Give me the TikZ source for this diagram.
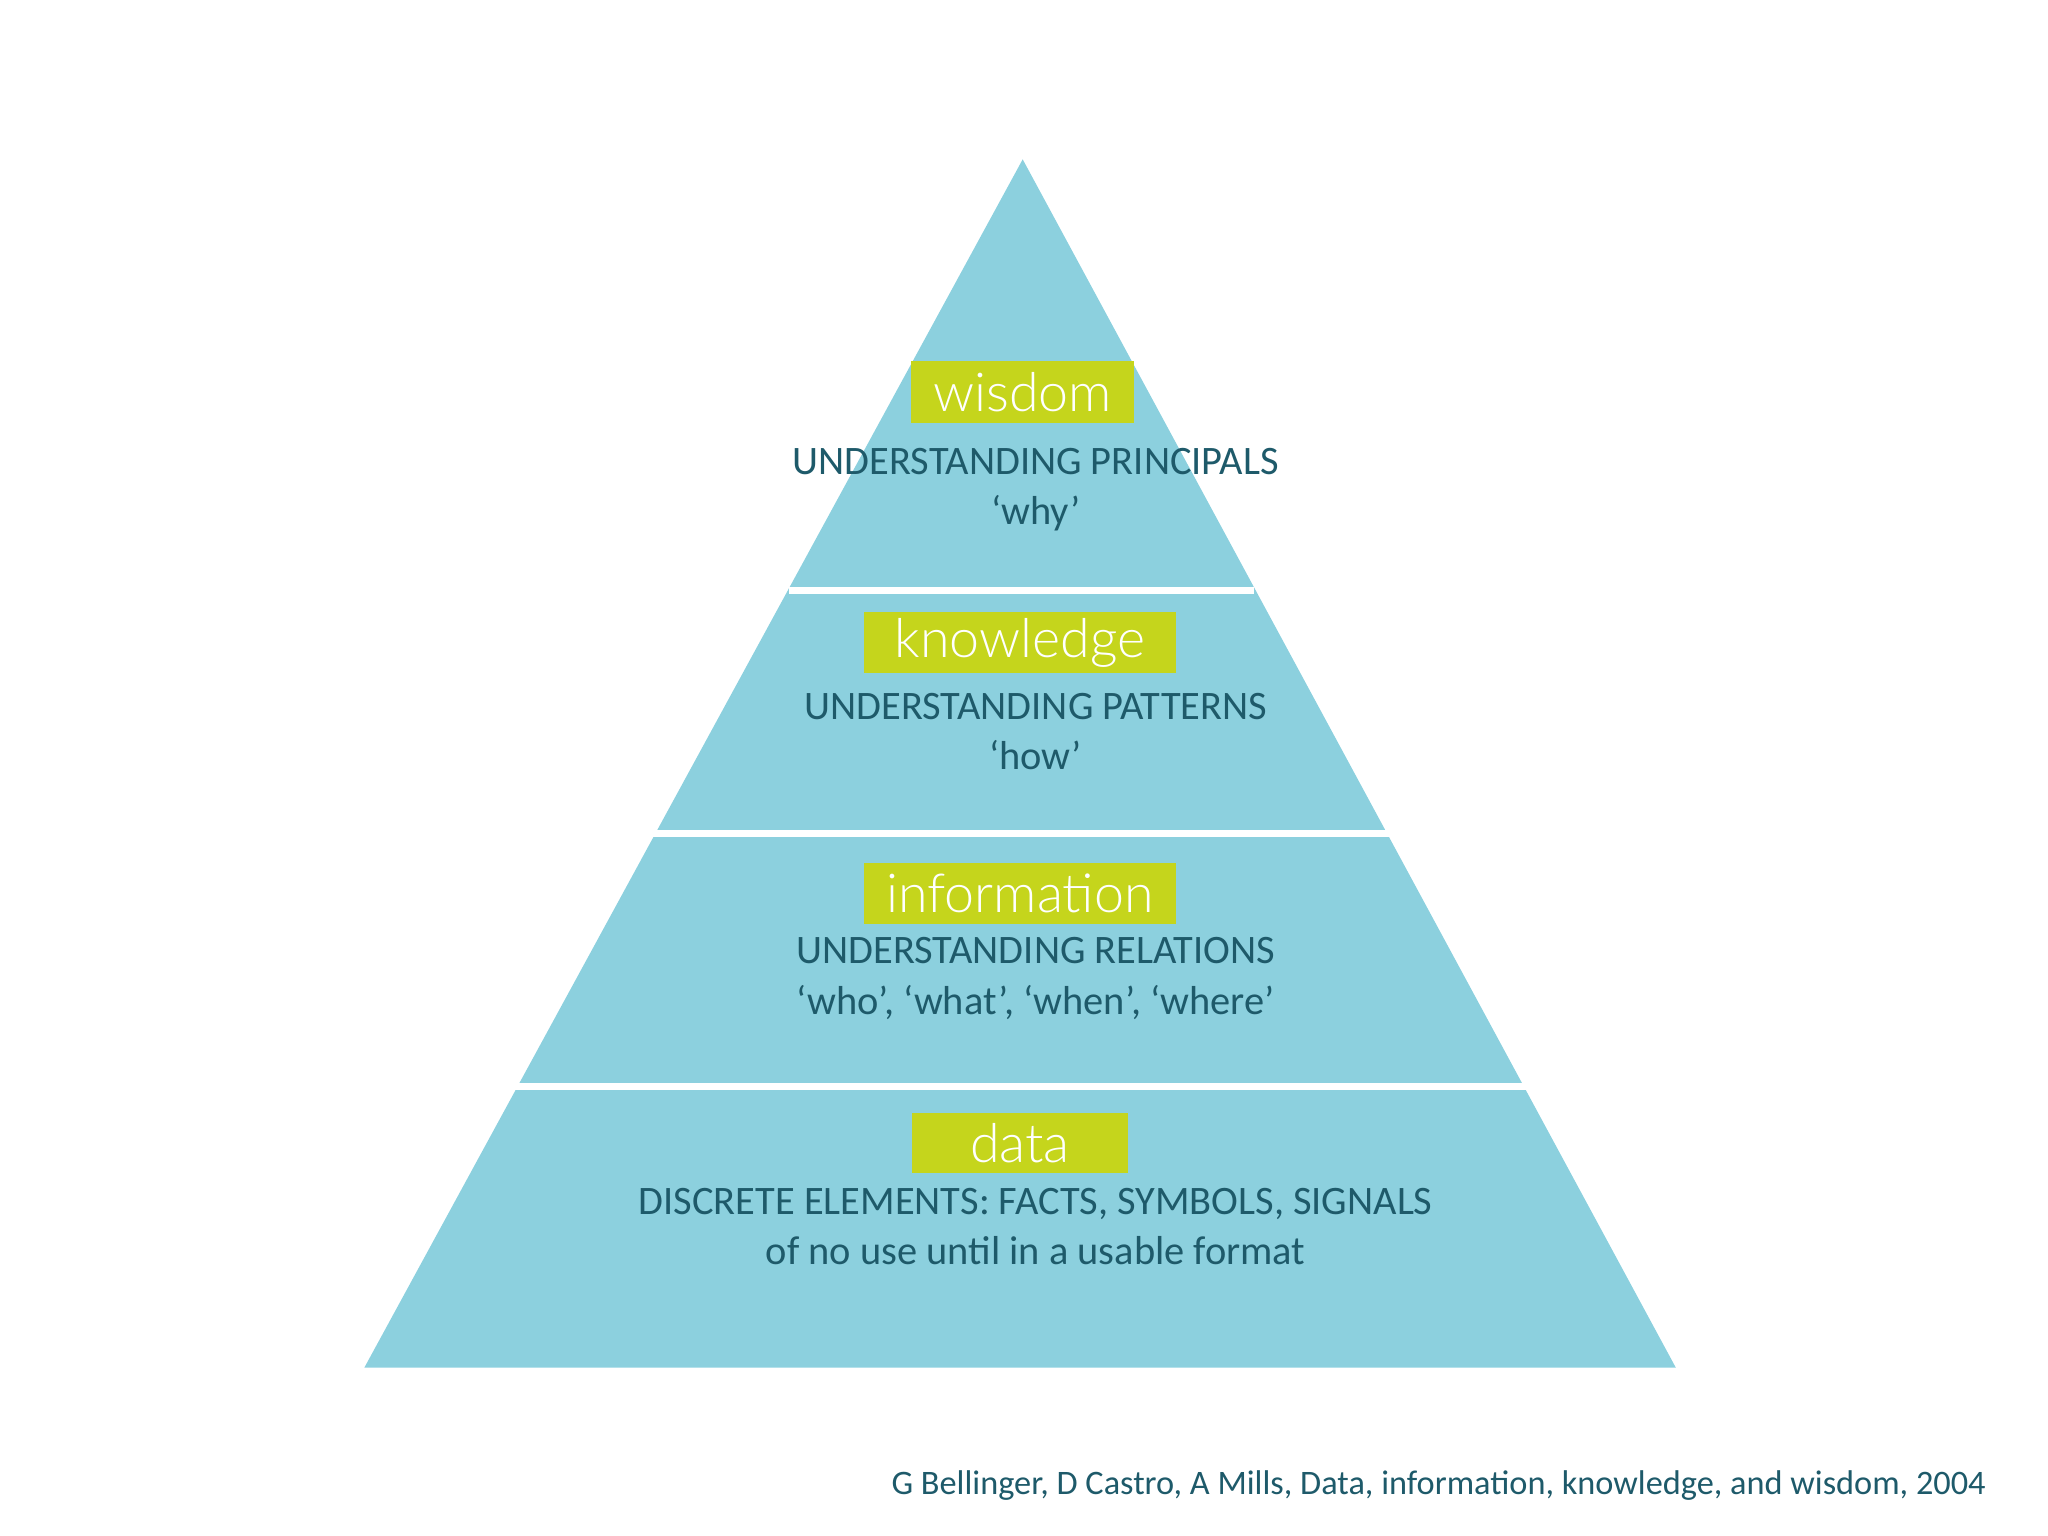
\documentclass[tikz,border=0pt]{standalone}
\usepackage{fontspec}
\setmainfont{Carlito}
\newfontfamily\labfont{Lato Light}
\definecolor{pyr}{HTML}{8CD0DE}
\definecolor{lab}{HTML}{C5D51C}
\definecolor{txt}{HTML}{1E5A6A}
\begin{document}
\begin{tikzpicture}[x=0.01cm,y=-0.01cm,
  labbox/.style={fill=lab,text=white,font=\labfont\fontsize{11.7}{13}\selectfont,inner sep=0pt},
  body/.style={text=txt,font=\fontsize{8.8}{10}\selectfont,align=center,inner sep=0pt},
  gap/.style={white,line width=1.6pt}]
\useasboundingbox (0,0) rectangle (1568,1176);
\coordinate (apex) at (783,122);
\coordinate (bl) at (279,1047);
\coordinate (br) at (1283,1047);
\fill[pyr] (apex) -- (br) -- (bl) -- cycle;
\coordinate (g1l) at (604,452); \coordinate (g1r) at (960,452);
\coordinate (g2l) at (496,638); \coordinate (g2r) at (1069,638);
\coordinate (g3l) at (391,832); \coordinate (g3r) at (1174,832);
\draw[gap] (g1l) -- (g1r);
\draw[gap] (g2l) -- (g2r);
\draw[gap] (g3l) -- (g3r);
\node[labbox,minimum width=1.71cm,minimum height=0.47cm] (w) at (783,300) {wisdom};
\node[labbox,minimum width=2.39cm,minimum height=0.47cm] (k) at (781,492) {knowledge};
\node[labbox,minimum width=2.39cm,minimum height=0.47cm] (i) at (781,684) {information};
\node[labbox,minimum width=1.65cm,minimum height=0.46cm] (d) at (781,875) {data};
\node[body] (wt) at (793,375) {UNDERSTANDING PRINCIPALS\\[1pt]‘why’};
\node[body] (kt) at (793,560) {UNDERSTANDING PATTERNS\\[1pt]‘how’};
\node[body] (it) at (793,749) {UNDERSTANDING RELATIONS\\[1pt]‘who’, ‘what’, ‘when’, ‘where’};
\node[body] (dt) at (793,939) {DISCRETE ELEMENTS: FACTS, SYMBOLS, SIGNALS\\[1pt]of no use until in a usable format};
\node[text=txt,font=\fontsize{7.47}{9}\selectfont,anchor=east,inner sep=0pt] (cap) at (1521,1137) {G Bellinger, D Castro, A Mills, Data, information, knowledge, and wisdom, 2004};
\end{tikzpicture}
\end{document}
